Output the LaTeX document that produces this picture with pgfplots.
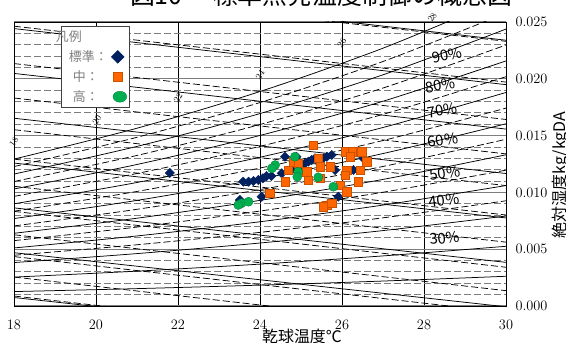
\documentclass[border=0pt]{standalone}
\usepackage{fontspec}
\usepackage{pgfplots}
\pgfplotsset{compat=1.18}
\newfontfamily\cjk{Noto Sans CJK JP}
\definecolor{navy}{RGB}{0,32,96}
\definecolor{orng}{RGB}{255,102,0}
\definecolor{grn}{RGB}{0,176,80}
\definecolor{gridg}{RGB}{125,125,125}
\definecolor{legtxt}{RGB}{128,128,128}
\pgfplotsset{
  rh/.style={black, line width=0.75bp, smooth, no marks, forget plot},
  rhd/.style={black, line width=0.75bp, dash pattern=on 7bp off 3bp, smooth, no marks, forget plot},
  en/.style={black, line width=0.75bp, no marks, forget plot},
  wb/.style={black, line width=0.75bp, dash pattern=on 7bp off 3bp, no marks, forget plot},
}
\begin{document}
\begin{tikzpicture}[x=1bp,y=1bp]
\useasboundingbox (-14,-36) rectangle (552,306);
\begin{axis}[
  name=ax, at={(0,0)}, anchor=south west,
  scale only axis, width=492bp, height=284bp,
  xmin=18, xmax=30, ymin=0, ymax=0.025,
  xtick={18,20,...,30},
  ytick={0,0.005,0.010,0.015,0.020,0.025},
  minor ytick={0.001,0.002,0.003,0.004,0.006,0.007,0.008,0.009,0.011,0.012,0.013,0.014,0.016,0.017,0.018,0.019,0.021,0.022,0.023,0.024},
  major tick length=0pt, minor tick length=0pt,
  xmajorgrids, ymajorgrids, yminorgrids,
  major x grid style={black, line width=0.8bp},
  major y grid style={gridg, line width=1.1bp},
  minor y grid style={gridg, line width=0.9bp, dash pattern=on 7bp off 3bp},
  axis line style={black, line width=0.8bp},
  yticklabel pos=right,
  scaled y ticks=false,
  yticklabel style={/pgf/number format/fixed, /pgf/number format/fixed zerofill, /pgf/number format/precision=3, anchor=west, xshift=6bp},
  xticklabel style={yshift=-11bp},
  tick label style={font=\fontsize{14}{16}\selectfont},
  xlabel={\cjk 乾球温度℃},
  xlabel style={at={(axis description cs:0.5854,-0.1056)}, anchor=center, font=\fontsize{16}{18}\selectfont},
  ylabel={\cjk 絶対湿度kg/kgDA},
  ylabel style={at={(axis description cs:1.112,0.461)}, anchor=center, font=\fontsize{16}{18}\selectfont},
  clip mode=individual,
  legend style={at={(axis description cs:0.0955,0.986)}, anchor=north west, draw=black!75, fill=white, line width=0.8bp,
    font=\cjk\fontsize{13}{15}\selectfont, text=legtxt, row sep=4.5bp, inner xsep=3bp, inner ysep=3bp,
    nodes={inner sep=1.5bp}},
  legend plot pos=right,
  legend cell align=left,
]
% relative humidity curves 10% ... 100% (solid)
\addplot[rh] coordinates {(18,0.001270) (21,0.001530) (24,0.001838) (27,0.002197) (30,0.002618)};
\addplot[rh] coordinates {(18,0.002544) (21,0.003068) (24,0.003687) (27,0.004410) (30,0.005257)};
\addplot[rh] coordinates {(18,0.003824) (21,0.004614) (24,0.005546) (27,0.006639) (30,0.007919)};
\addplot[rh] coordinates {(18,0.005110) (21,0.006167) (24,0.007417) (27,0.008884) (30,0.010604)};
\addplot[rh] coordinates {(18,0.006400) (21,0.007728) (24,0.009299) (27,0.011144) (30,0.013311)};
\addplot[rh] coordinates {(18,0.007696) (21,0.009297) (24,0.011192) (27,0.013421) (30,0.016042)};
\addplot[rh] coordinates {(18,0.008997) (21,0.010874) (24,0.013097) (27,0.015715) (30,0.018797)};
\addplot[rh] coordinates {(18,0.010304) (21,0.012458) (24,0.015013) (27,0.018025) (30,0.021575)};
\addplot[rh] coordinates {(18,0.011616) (21,0.014050) (24,0.016941) (27,0.020352) (30,0.024378)};
\addplot[rh] coordinates {(18,0.012934) (21,0.015651) (24,0.018881) (27,0.022696) (30,0.027205)};
% intermediate relative humidity curves 35% ... 95% (dashed)
\addplot[rhd] coordinates {(18,0.004467) (21,0.005391) (24,0.006482) (27,0.007762) (30,0.009262)};
\addplot[rhd] coordinates {(18,0.005755) (21,0.006948) (24,0.008358) (27,0.010014) (30,0.011958)};
\addplot[rhd] coordinates {(18,0.007048) (21,0.008513) (24,0.010246) (27,0.012283) (30,0.014677)};
\addplot[rhd] coordinates {(18,0.008347) (21,0.010086) (24,0.012145) (27,0.014568) (30,0.017420)};
\addplot[rhd] coordinates {(18,0.009651) (21,0.011666) (24,0.014055) (27,0.016870) (30,0.020186)};
\addplot[rhd] coordinates {(18,0.010960) (21,0.013254) (24,0.015977) (27,0.019189) (30,0.022977)};
\addplot[rhd] coordinates {(18,0.012275) (21,0.014851) (24,0.017911) (27,0.021524) (30,0.025792)};
% enthalpy lines 20 ... 90 kJ/kg (solid)
\addplot[en] coordinates {(18,0.000747) (30,-0.003980)};
\addplot[en] coordinates {(18,0.004692) (30,-0.000070)};
\addplot[en] coordinates {(18,0.008638) (30,0.003841)};
\addplot[en] coordinates {(18,0.012583) (30,0.007752)};
\addplot[en] coordinates {(18,0.016529) (30,0.011663)};
\addplot[en] coordinates {(18,0.020474) (30,0.015574)};
\addplot[en] coordinates {(18,0.024420) (30,0.019485)};
\addplot[en] coordinates {(18,0.028366) (30,0.023396)};
% wet-bulb lines 6 ... 28 C (dashed)
\addplot[wb] coordinates {(18,0.00088) (30,-0.00404)};
\addplot[wb] coordinates {(18,0.00255) (30,-0.00237)};
\addplot[wb] coordinates {(18,0.00435) (30,-0.00057)};
\addplot[wb] coordinates {(18,0.00627) (30,0.00135)};
\addplot[wb] coordinates {(18,0.00833) (30,0.00341)};
\addplot[wb] coordinates {(18,0.01054) (30,0.00562)};
\addplot[wb] coordinates {(18,0.01293) (30,0.00801)};
\addplot[wb] coordinates {(18,0.01552) (30,0.01060)};
\addplot[wb] coordinates {(18,0.01831) (30,0.01339)};
\addplot[wb] coordinates {(18,0.02134) (30,0.01642)};
\addplot[wb] coordinates {(18,0.02463) (30,0.01971)};
\addplot[wb] coordinates {(18,0.02822) (30,0.02330)};
% legend title
\addlegendimage{empty legend}
\addlegendentry{\hspace{-10bp}凡例}
% data
\addplot[only marks, mark=square*, mark options={rotate=45}, mark size=3.3bp, draw=navy, fill=navy, legend image post style={mark size=4.4bp}] coordinates {
(21.80,0.01171) (23.59,0.01094) (23.72,0.01094) (23.84,0.01100) (23.96,0.01109) (24.07,0.01124)
(24.16,0.01144) (24.28,0.01144) (24.53,0.01168) (24.61,0.01314) (24.77,0.01197) (24.89,0.01314)
(24.98,0.01226) (25.10,0.01256) (25.18,0.01271) (25.26,0.01285) (25.34,0.01300) (25.46,0.01256)
(25.54,0.01300) (25.63,0.01314) (25.75,0.01329) (25.83,0.01197) (25.91,0.00962) (26.28,0.01197)
(26.52,0.01300) (24.04,0.00962) (23.51,0.00933)};
\addlegendentry{\hspace{3bp}標準：}
\addplot[only marks, mark=square*, mark size=4.2bp, draw=orng!80!black, fill=orng, line width=0.3bp, legend image post style={mark size=4.8bp}] coordinates {
(25.30,0.01417) (24.81,0.01271) (24.93,0.01256) (24.69,0.01197) (24.61,0.01094) (24.24,0.00992)
(25.42,0.01300) (25.46,0.01226) (25.14,0.01182) (25.18,0.01109) (25.71,0.01226) (25.46,0.01124)
(26.07,0.01358) (26.24,0.01358) (26.20,0.01314) (26.48,0.01358) (26.60,0.01271) (26.11,0.01197)
(26.07,0.01153) (26.44,0.01197) (26.40,0.01094) (25.95,0.01065) (26.11,0.01006) (25.63,0.00889)
(25.75,0.00904) (25.54,0.00874)};
\addlegendentry{\hspace{7bp}中：}
\addplot[only marks, mark=*, mark size=4.6bp, draw=grn!70!black, fill=grn, line width=0.3bp, legend image post style={mark size=5.5bp, xscale=1.25}] coordinates {
(24.85,0.01314) (24.37,0.01241) (24.29,0.01212) (24.93,0.01182) (24.91,0.01138) (25.42,0.01133)
(25.79,0.01050) (23.55,0.00904) (23.72,0.00918) (23.47,0.00889)};
\addlegendentry{\hspace{7bp}高：}
% RH labels
\begin{scope}[font=\cjk\fontsize{15}{17}\selectfont]
\node[rotate=12] at (axis cs:28.56,0.02210) {90\%};
\node[rotate=10] at (axis cs:28.39,0.01945) {80\%};
\node[rotate=10] at (axis cs:28.44,0.01725) {70\%};
\node[rotate=9] at (axis cs:28.46,0.01461) {60\%};
\node[rotate=8] at (axis cs:28.51,0.01171) {50\%};
\node[rotate=7] at (axis cs:28.49,0.00933) {40\%};
\node[rotate=6] at (axis cs:28.51,0.00599) {30\%};
\end{scope}
% wet-bulb labels
\begin{scope}[font=\fontsize{9}{10}\selectfont]
\node[rotate=55] at (axis cs:18.0,0.01444) {18};
\node[rotate=55] at (axis cs:20.02,0.01637) {20};
\node[rotate=55] at (axis cs:22.0,0.01831) {22};
\node[rotate=55] at (axis cs:24.0,0.02033) {24};
\node[rotate=55] at (axis cs:26.0,0.02315) {26};
\node[rotate=55] at (axis cs:28.2,0.02540) {28};
\end{scope}
\end{axis}
\node[font=\cjk\fontsize{25}{28}\selectfont, anchor=base] at (307,302) {図10 ・標準点発温度制御の概念図};
\end{tikzpicture}
\end{document}
